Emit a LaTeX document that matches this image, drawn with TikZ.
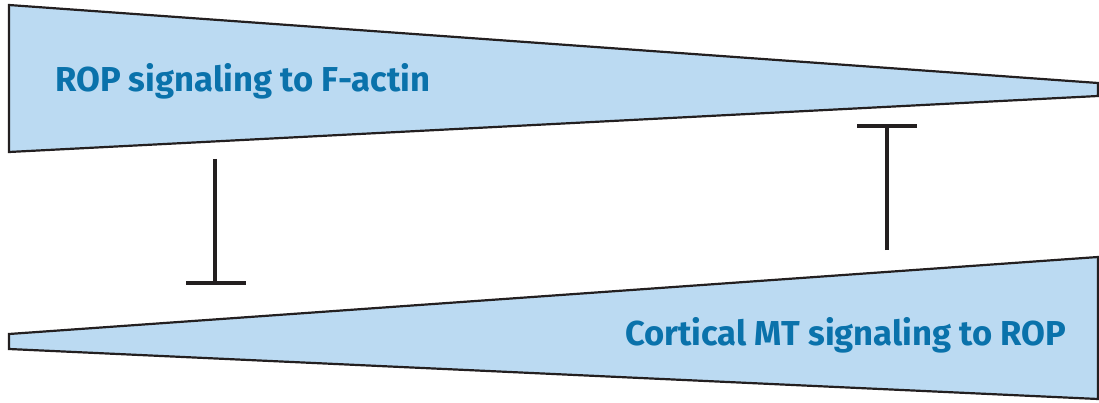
\documentclass[tikz,border=0pt]{standalone}
\usepackage{fontspec}
\setsansfont{Fira Sans}
\definecolor{wedgefill}{HTML}{BBDAF2}
\definecolor{labelblue}{HTML}{0A72AB}
\definecolor{outline}{HTML}{231F20}
\begin{document}
\begin{tikzpicture}[x=1pt,y=-1pt,
  wedge/.style={fill=wedgefill,draw=outline,line width=2.2pt,line join=miter},
  inhib/.style={draw=outline,line width=3.5pt},
  lbl/.style={text=labelblue,font=\sffamily\bfseries\fontsize{34.6}{38}\selectfont,inner sep=0pt,anchor=base west}]
\useasboundingbox (0,0) rectangle (1099,403);
% top wedge
\draw[wedge] (9,5) -- (1098,83) -- (1098,96) -- (9,152) -- cycle;
% bottom wedge
\draw[wedge] (9,334) -- (1098,257) -- (1098,399) -- (9,349) -- cycle;
% labels
\node[lbl] (top) at (55,92) {ROP signaling to F-actin};
\node[lbl] (bot) at (625,345) {Cortical MT signaling to ROP};
% inhibitors
\coordinate (a1) at (215,159);
\coordinate (a2) at (215,283);
\coordinate (a2l) at (186,283);
\coordinate (a2r) at (246,283);
\draw[inhib] (a1) -- (a2);
\draw[inhib] (a2l) -- (a2r);
\coordinate (b1) at (887,250);
\coordinate (b2) at (887,126);
\coordinate (b2l) at (857,126);
\coordinate (b2r) at (917,126);
\draw[inhib] (b1) -- (b2);
\draw[inhib] (b2l) -- (b2r);
\end{tikzpicture}
\end{document}
